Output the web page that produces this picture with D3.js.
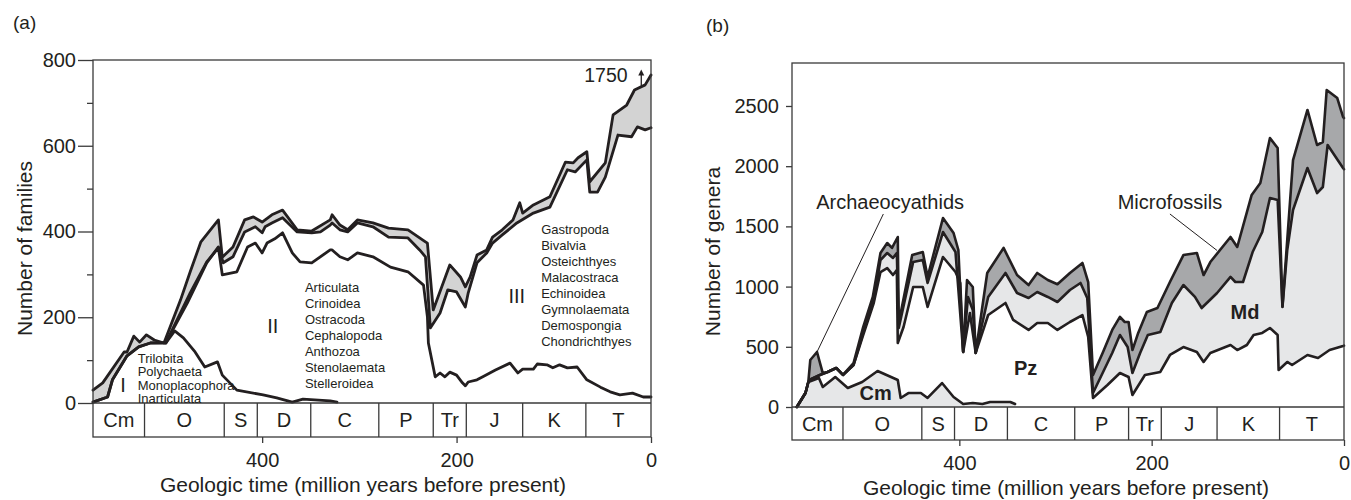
<!DOCTYPE html>
<html>
<head>
<meta charset="utf-8">
<script src="https://cdnjs.cloudflare.com/ajax/libs/d3/7.8.5/d3.min.js"></script>
<style>
  body { margin: 0; background: #fff; }
  text { font-family: "Liberation Sans", Arial, Helvetica, sans-serif; fill: #231f20; }
</style>
</head>
<body>
<script>
// geologic periods (million years)
var periods = ["Cm", "O", "S", "D", "C", "P", "Tr", "J", "K", "T"];
var periodBounds = [574, 521, 439, 405, 350, 280, 224, 190, 132, 67, 0];
var timeTicks = [400, 200, 0];

// (a) number of families: [age, count]
var famTotal = [[574,30],[564,47],[542,119],[539,119],[532,156],[526,142],[519,159],[511,147],[501,140],[484,240],[474,306],[463,376],[445,427],[441,340],[430,364],[418,427],[409,434],[400,422],[390,439],[379,450],[364,404],[349,401],[330,427],[328,439],[320,415],[312,404],[302,427],[286,420],[270,408],[250,404],[232,376],[230,373],[224,217],[207,322],[196,294],[191,271],[186,294],[179,345],[169,357],[163,387],[153,404],[142,427],[135,467],[132,443],[121,462],[104,481],[88,562],[80,560],[75,572],[66,586],[63,516],[47,560],[39,672],[25,695],[17,730],[6,742],[0,765]];
var famSkel = [[574,2],[559,14],[554,54],[539,110],[527,131],[515,140],[499,141],[477,233],[457,327],[445,364],[440,327],[430,341],[418,399],[407,411],[400,397],[397,411],[390,420],[379,432],[364,399],[349,397],[340,399],[330,415],[328,420],[320,404],[312,399],[302,420],[286,411],[270,387],[250,385],[238,357],[232,341],[227,175],[217,210],[209,264],[200,259],[191,224],[188,257],[179,327],[169,350],[163,373],[153,392],[138,420],[121,443],[104,457],[86,544],[78,539],[66,567],[63,492],[55,492],[47,527],[34,625],[20,621],[14,644],[6,637],[0,642]];
var famII = [[499,140],[474,257],[457,329],[445,362],[441,299],[426,306],[415,364],[407,373],[400,350],[395,373],[387,383],[379,397],[369,350],[361,329],[349,327],[330,357],[328,357],[320,341],[312,334],[302,350],[286,341],[268,317],[250,306],[234,275],[230,201],[229,140],[222,61],[217,70],[212,61],[207,72],[200,65],[194,47],[191,40],[188,49],[179,54],[173,61],[160,77],[145,93],[137,70],[132,79],[121,79],[117,91],[107,89],[101,82],[94,89],[86,82],[76,84],[66,54],[52,37],[42,26],[32,19],[19,23],[8,14],[0,14]];
var famI = [[574,2],[559,14],[554,54],[539,110],[527,131],[515,140],[499,140],[490,168],[481,152],[469,119],[459,84],[446,96],[441,65],[438,58],[426,30],[399,19],[385,12],[369,2],[358,9],[330,5],[323,2]];

var faunaIList = ["Trilobita", "Polychaeta", "Monoplacophora", "Inarticulata"];
var faunaIIList = ["Articulata", "Crinoidea", "Ostracoda", "Cephalopoda", "Anthozoa", "Stenolaemata", "Stelleroidea"];
var faunaIIIList = ["Gastropoda", "Bivalvia", "Osteichthyes", "Malacostraca", "Echinoidea", "Gymnolaemata", "Demospongia", "Chondrichthyes"];

// (b) number of genera: [age, count]
var genCm = [[569,0],[560,116],[557,208],[546,241],[542,166],[529,249],[516,158],[501,208],[485,299],[464,224],[461,75],[453,116],[440,116],[433,75],[418,199],[406,83],[396,25],[386,33],[376,25],[368,42],[347,42],[342,25]];
var genPz = [[569,0],[560,116],[557,208],[555,228],[545,266],[537,291],[528,324],[521,266],[510,349],[500,598],[489,864],[482,1121],[475,1154],[469,1096],[465,1138],[464,532],[458,664],[448,997],[438,997],[433,831],[417,1246],[404,1121],[399,1030],[396,457],[389,781],[383,449],[370,764],[352,864],[344,723],[328,640],[319,698],[308,698],[298,640],[285,706],[272,764],[266,581],[261,75],[246,183],[233,282],[224,249],[220,100],[207,266],[191,291],[181,432],[167,498],[153,457],[146,374],[139,449],[118,515],[111,473],[101,515],[94,598],[85,615],[77,656],[69,598],[68,307],[59,374],[54,349],[38,432],[27,407],[15,473],[1,507],[0,510]];
var genMd = [[569,0],[560,116],[557,208],[555,228],[545,266],[537,291],[528,324],[521,266],[510,349],[500,615],[489,889],[482,1221],[475,1279],[469,1238],[465,1279],[463,656],[448,1204],[438,1221],[433,1030],[417,1453],[404,1287],[396,457],[391,914],[386,806],[383,449],[370,914],[352,1113],[340,947],[328,905],[319,955],[308,914],[298,872],[285,972],[274,1030],[267,905],[261,116],[241,449],[233,598],[225,498],[220,282],[212,449],[204,598],[191,623],[179,864],[167,1013],[155,914],[148,822],[132,947],[118,1080],[113,1038],[105,1038],[95,1287],[85,1453],[77,1736],[69,1719],[64,830],[59,1304],[53,1636],[38,1985],[28,1777],[22,1827],[17,2176],[1,1985],[0,1975]];
var genTotal = [[569,0],[560,116],[557,208],[555,390],[548,457],[542,282],[537,291],[528,324],[521,266],[510,365],[500,664],[490,914],[482,1279],[475,1362],[470,1321],[464,1412],[463,698],[449,1262],[438,1287],[433,1080],[417,1570],[406,1445],[401,1304],[396,457],[392,1055],[386,997],[383,449],[371,1113],[354,1321],[340,1096],[328,1013],[319,1113],[308,1055],[298,1020],[285,1113],[272,1196],[266,1038],[261,266],[251,449],[241,640],[233,748],[228,706],[224,706],[220,473],[214,615],[205,789],[194,822],[181,1038],[167,1262],[153,1279],[146,1096],[139,1204],[118,1412],[111,1329],[96,1761],[87,1860],[77,2234],[69,2151],[64,835],[53,2051],[38,2467],[28,2176],[22,2201],[18,2633],[7,2566],[1,2409],[0,2400]];

var ink = "#231f20";
var svg = d3.select("body").append("svg")
  .attr("width", 1351)
  .attr("height", 500);

function drawFrame(p) {
  var x = d3.scaleLinear().domain([574, 0]).range([p.left, p.right]);
  var y = d3.scaleLinear().domain([0, p.yMax]).range([p.zeroY, p.top]);
  var g = svg.append("g");
  p.x = x; p.y = y; p.g = g;

  // period strip
  var strip = g.append("g");
  strip.selectAll("line.pb")
    .data(periodBounds.slice(1, -1))
    .enter().append("line")
    .attr("x1", function (d) { return x(d); })
    .attr("x2", function (d) { return x(d); })
    .attr("y1", p.zeroY)
    .attr("y2", p.stripBottom)
    .attr("stroke", "#3a3a3a")
    .attr("stroke-width", 1.3);
  strip.selectAll("text")
    .data(periods)
    .enter().append("text")
    .attr("x", function (d, i) { return (x(periodBounds[i]) + x(periodBounds[i + 1])) / 2; })
    .attr("y", (p.zeroY + p.stripBottom) / 2)
    .attr("dy", "0.36em")
    .attr("text-anchor", "middle")
    .attr("font-size", 20)
    .text(function (d) { return d; });

  // x axis below the strip
  g.append("g")
    .attr("transform", "translate(0," + p.stripBottom + ")")
    .call(d3.axisBottom(x).tickValues(timeTicks).tickSize(6).tickPadding(10).tickFormat(d3.format("d")))
    .call(function (a) {
      a.select(".domain").remove();
      a.selectAll("line").attr("stroke", "#3a3a3a").attr("stroke-width", 1.3);
      a.selectAll("text").attr("font-size", 20).attr("font-family", null).style("fill", ink);
    });

  g.append("text")
    .attr("x", p.titleX)
    .attr("y", p.titleY)
    .attr("text-anchor", "middle")
    .attr("font-size", 21)
    .text("Geologic time (million years before present)");

  g.append("text")
    .attr("transform", "translate(" + p.yTitleX + "," + ((p.top + p.stripBottom) / 2) + ") rotate(-90)")
    .attr("text-anchor", "middle")
    .attr("font-size", 21)
    .text(p.yTitle);

  g.append("text")
    .attr("x", p.tagX)
    .attr("y", p.tagY)
    .attr("font-size", 19)
    .text(p.tag);
  return p;
}

function finishFrame(p) {
  p.g.append("rect")
    .attr("x", p.left).attr("y", p.top)
    .attr("width", p.right - p.left)
    .attr("height", p.stripBottom - p.top)
    .attr("fill", "none")
    .attr("stroke", "#3a3a3a")
    .attr("stroke-width", 1.3);
  p.g.append("line")
    .attr("x1", p.left).attr("x2", p.right)
    .attr("y1", p.zeroY).attr("y2", p.zeroY)
    .attr("stroke", "#3a3a3a")
    .attr("stroke-width", 1.3);
}

function lineOf(p) {
  return d3.line()
    .x(function (d) { return p.x(d[0]); })
    .y(function (d) { return p.y(d[1]); });
}

function band(p, upper, lower) {
  return lineOf(p)(upper.concat(lower.slice().reverse())) + "Z";
}

function curve(p, data, w) {
  p.g.append("path")
    .datum(data)
    .attr("fill", "none")
    .attr("stroke", ink)
    .attr("stroke-width", w)
    .attr("stroke-linejoin", "round")
    .attr("stroke-linecap", "round")
    .attr("d", lineOf(p));
}

// ---------- panel (a)
var pa = drawFrame({
  left: 93, right: 651, top: 60, zeroY: 403, stripBottom: 437, yMax: 800,
  titleX: 363, titleY: 492, yTitleX: 32, yTitle: "Number of families",
  tagX: 13, tagY: 29, tag: "(a)"
});

pa.g.append("g")
  .attr("transform", "translate(" + pa.left + ",0)")
  .call(d3.axisLeft(pa.y).tickValues([0, 200, 400, 600, 800]).tickSize(15).tickPadding(2).tickFormat(d3.format("d")))
  .call(function (a) {
    a.select(".domain").remove();
    a.selectAll("line").attr("stroke", "#3a3a3a").attr("stroke-width", 1.3);
    a.selectAll("text").attr("font-size", 20).attr("font-family", null).style("fill", ink);
  });
pa.g.append("g")
  .attr("transform", "translate(" + pa.left + ",0)")
  .call(d3.axisLeft(pa.y).tickValues([100, 300, 500, 700]).tickSize(6).tickFormat(""))
  .call(function (a) {
    a.select(".domain").remove();
    a.selectAll("line").attr("stroke", "#3a3a3a").attr("stroke-width", 1.3);
  });

pa.g.append("path")
  .attr("d", band(pa, famTotal, famSkel))
  .attr("fill", "#d3d3d3");
curve(pa, famI, 2.8);
curve(pa, famII, 2.8);
curve(pa, famSkel, 2.8);
curve(pa, famTotal, 2.8);
finishFrame(pa);

function list(p, names, age, val, step) {
  p.g.selectAll(null)
    .data(names)
    .enter().append("text")
    .attr("x", p.x(age))
    .attr("y", function (d, i) { return p.y(val) + i * step; })
    .attr("font-size", 13)
    .text(function (d) { return d; });
}
list(pa, faunaIList, 528, 93, 13.3);
list(pa, faunaIIList, 356, 259, 16);
list(pa, faunaIIIList, 113, 394, 16);

[["I", 543, 26], ["II", 389, 163], ["III", 138, 233]].forEach(function (r) {
  pa.g.append("text")
    .attr("x", pa.x(r[1])).attr("y", pa.y(r[2]))
    .attr("text-anchor", "middle")
    .attr("font-size", 20)
    .text(r[0]);
});

pa.g.append("text")
  .attr("x", pa.x(24)).attr("y", pa.y(749))
  .attr("text-anchor", "end")
  .attr("font-size", 19.5)
  .text("1750");
var ax = pa.x(10), ay0 = pa.y(740), ay1 = pa.y(778);
pa.g.append("line")
  .attr("x1", ax).attr("x2", ax).attr("y1", ay0).attr("y2", ay1 + 4)
  .attr("stroke", ink).attr("stroke-width", 1.3);
pa.g.append("path")
  .attr("d", "M" + (ax - 3) + "," + (ay1 + 6) + "L" + ax + "," + ay1 + "L" + (ax + 3) + "," + (ay1 + 6) + "Z")
  .attr("fill", ink);

// ---------- panel (b)
var pb = drawFrame({
  left: 792, right: 1344, top: 63, zeroY: 407, stripBottom: 440, yMax: 2857,
  titleX: 1066, titleY: 495, yTitleX: 720, yTitle: "Number of genera",
  tagX: 706, tagY: 32, tag: "(b)"
});

pb.g.append("g")
  .attr("transform", "translate(" + pb.left + ",0)")
  .call(d3.axisLeft(pb.y).tickValues([0, 500, 1000, 1500, 2000, 2500]).tickSize(6).tickPadding(7).tickFormat(d3.format("d")))
  .call(function (a) {
    a.select(".domain").remove();
    a.selectAll("line").attr("stroke", "#3a3a3a").attr("stroke-width", 1.3);
    a.selectAll("text").attr("font-size", 20).attr("font-family", null).style("fill", ink);
  });

pb.g.append("path")
  .datum(genCm)
  .attr("fill", "#e6e7e8")
  .attr("d", d3.area()
    .x(function (d) { return pb.x(d[0]); })
    .y0(pb.y(0))
    .y1(function (d) { return pb.y(d[1]); }));
pb.g.append("path")
  .attr("d", band(pb, genMd, genPz))
  .attr("fill", "#e6e7e8");
pb.g.append("path")
  .attr("d", band(pb, genTotal, genMd))
  .attr("fill", "#a7a8aa");
curve(pb, genCm, 2.6);
curve(pb, genPz, 2.6);
curve(pb, genMd, 2.6);
curve(pb, genTotal, 2.6);
finishFrame(pb);

// leaders and labels
[[479, 1603, 548, 457], [181, 1603, 132, 1300]].forEach(function (l) {
  pb.g.append("line")
    .attr("x1", pb.x(l[0])).attr("y1", pb.y(l[1]))
    .attr("x2", pb.x(l[2])).attr("y2", pb.y(l[3]))
    .attr("stroke", ink).attr("stroke-width", 1);
});
[["Archaeocyathids", 472, 1645], ["Microfossils", 181, 1645]].forEach(function (r) {
  pb.g.append("text")
    .attr("x", pb.x(r[1])).attr("y", pb.y(r[2]))
    .attr("text-anchor", "middle")
    .attr("font-size", 20)
    .text(r[0]);
});
[["Cm", 487, 58], ["Pz", 331, 266], ["Md", 103, 731]].forEach(function (r) {
  pb.g.append("text")
    .attr("x", pb.x(r[1])).attr("y", pb.y(r[2]))
    .attr("text-anchor", "middle")
    .attr("font-size", 20)
    .attr("font-weight", "bold")
    .text(r[0]);
});
</script>
</body>
</html>
